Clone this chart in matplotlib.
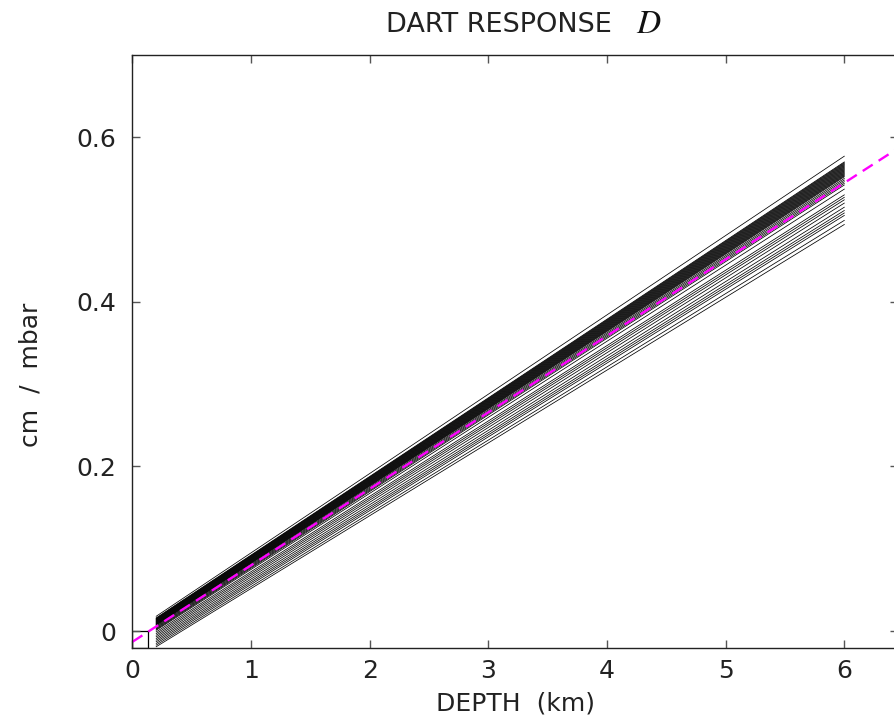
import numpy as np
import matplotlib
matplotlib.use("Agg")
import matplotlib.pyplot as plt
from matplotlib.patches import Rectangle

plt.rcParams['font.family'] = ['DejaVu Sans']
plt.rcParams['mathtext.fontset'] = 'stix'

# depth end points of the response curves (km)
depth = [0.2, 6.0]
# response at 0.2 km and at 6 km (cm/mbar), one entry per curve
resp_start = [0.018, 0.016, 0.0155, 0.015, 0.0145, 0.014, 0.0135, 0.013, 0.0125,
              0.012, 0.0115, 0.011, 0.0105, 0.010, 0.0095, 0.009, 0.0085, 0.008,
              0.0075, 0.007, 0.006, 0.005, 0.004, 0.003, 0.002, 0.001, -0.001,
              -0.003, -0.005, -0.007, -0.009, -0.011, -0.013, -0.015, -0.017, -0.019]
resp_end = [0.577, 0.570, 0.569, 0.568, 0.567, 0.566, 0.565, 0.564, 0.563,
            0.562, 0.561, 0.560, 0.559, 0.558, 0.557, 0.556, 0.555, 0.554,
            0.553, 0.552, 0.550, 0.548, 0.546, 0.544, 0.542, 0.537, 0.530,
            0.527, 0.524, 0.520, 0.515, 0.511, 0.508, 0.505, 0.499, 0.494]
# mean fit (magenta dashed)
fit_x = [0.0, 6.5]
fit_y = [-0.013, 0.591]

xticks = [0, 1, 2, 3, 4, 5, 6]
yticks = [0, 0.2, 0.4, 0.6]
ytick_labels = ['0', '0.2', '0.4', '0.6']

fig = plt.figure(figsize=(8.95, 7.23), dpi=100)
ax = fig.add_axes([0.148, 0.104, 0.855, 0.820])

for s, e in zip(resp_start, resp_end):
    ax.plot(depth, [s, e], color='black', linewidth=0.55)

ax.plot(fit_x, fit_y, color='magenta', linewidth=1.7, dashes=(5, 3))

# little box in the lower left corner
ax.add_patch(Rectangle((0, -0.0203), 0.133, 0.0203, fill=False,
                       edgecolor='black', linewidth=0.9))

ax.set_xlim(0, 6.45)
ax.set_ylim(-0.0203, 0.7)
ax.set_xticks(xticks)
ax.set_xticklabels([str(v) for v in xticks])
ax.set_yticks(yticks)
ax.set_yticklabels(ytick_labels)
ax.tick_params(direction='in', length=6, width=1.0, color='#555555',
               top=True, right=True, labelsize=18, labelcolor='#222222')
ax.tick_params(axis='x', pad=8)
ax.tick_params(axis='y', pad=12)
for sp in ax.spines.values():
    sp.set_linewidth(1.0)
    sp.set_color('#222222')

# title: plain text plus a larger italic D
fig.text(0.684, 0.966, 'DART RESPONSE', fontsize=19.5, color='#222222',
         ha='right', va='center')
fig.text(0.725, 0.968, '$D$', fontsize=24, color='#111111',
         ha='center', va='center')
ax.set_xlabel('DEPTH  (km)', fontsize=18, labelpad=6, color='#222222')
ax.set_ylabel('cm  /  mbar', fontsize=18, color='#222222')
ax.yaxis.set_label_coords(-0.118, 0.46)

fig.savefig('out.png', dpi=100)
